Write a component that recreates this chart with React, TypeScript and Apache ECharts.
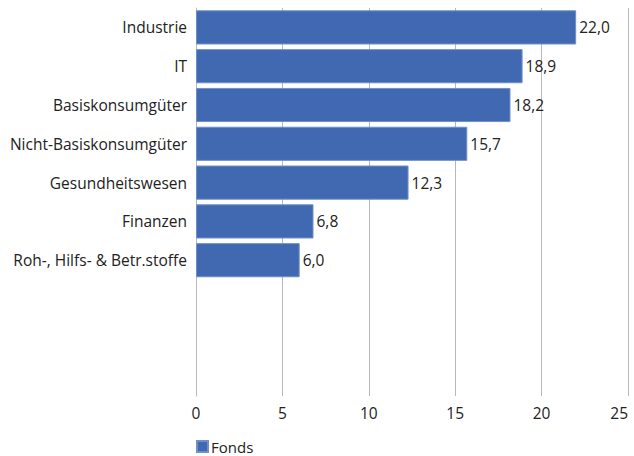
import React, { useEffect, useRef } from "react";
import * as echarts from "echarts";

const categories = [
  "Industrie",
  "IT",
  "Basiskonsumgüter",
  "Nicht-Basiskonsumgüter",
  "Gesundheitswesen",
  "Finanzen",
  "Roh-, Hilfs- & Betr.stoffe",
  "",
  " ",
  "  ",
];
const fondsValues: (number | null)[] = [22.0, 18.9, 18.2, 15.7, 12.3, 6.8, 6.0, null, null, null];
const seriesName = "Fonds";

const FONT = "Open Sans";
const FS = 15.5;

export default function App() {
  const ref = useRef<HTMLDivElement>(null);
  useEffect(() => {
    if (!ref.current) return;
    const chart = echarts.init(ref.current, null, { renderer: "svg" });
    chart.setOption({
      animation: false,
      textStyle: { fontFamily: FONT },
      grid: { left: 196, right: 6, top: 8, bottom: 60, containLabel: false, outerBoundsMode: "none" },
      legend: {
        data: [seriesName],
        left: 196,
        top: 439,
        padding: 0,
        itemWidth: 11,
        itemHeight: 11,
        itemGap: 4,
        icon: "rect",
        textStyle: { fontFamily: FONT, fontSize: 15, color: "#222", padding: [0, 0, 0, -2], lineHeight: 14 },
      },
      xAxis: {
        type: "value",
        min: 0,
        max: 25,
        interval: 5,
        axisLine: { show: false },
        axisTick: { show: false },
        splitLine: { show: true, lineStyle: { color: "#b8b8b8", width: 1 } },
        axisLabel: { fontFamily: FONT, fontSize: FS, color: "#222", margin: 9, alignMaxLabel: "right" },
      },
      yAxis: {
        type: "category",
        inverse: true,
        data: categories,
        axisLine: { show: true, lineStyle: { color: "#b8b8b8", width: 1 } },
        axisTick: { show: false },
        axisLabel: { fontFamily: FONT, fontSize: FS, color: "#222", margin: 9 },
      },
      series: [
        {
          name: seriesName,
          type: "bar",
          data: fondsValues,
          barCategoryGap: "12%",
          itemStyle: { color: "#4169b1", borderColor: "#6e8fc8", borderWidth: 1 },
          label: {
            show: true,
            position: "right",
            distance: 3,
            fontFamily: FONT,
            fontSize: FS,
            color: "#222",
            formatter: (p: any) => (p.value == null ? "" : Number(p.value).toFixed(1).replace(".", ",")),
          },
        },
      ],
    });
    return () => chart.dispose();
  }, []);
  return <div ref={ref} style={{ width: 634, height: 456, position: "absolute", left: 0, top: 0 }} />;
}
